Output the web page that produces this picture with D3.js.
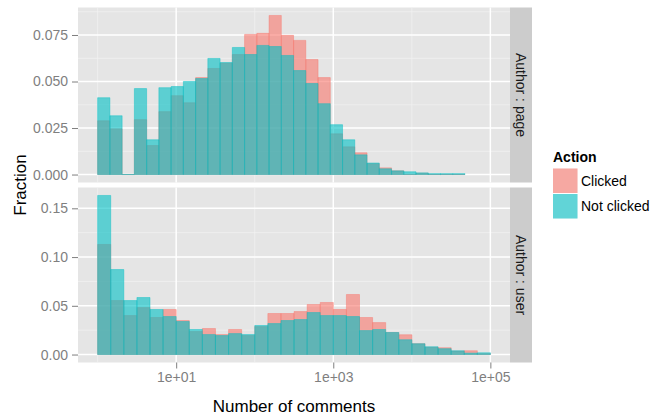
<!DOCTYPE html>
<html>
<head>
<meta charset="utf-8">
<script src="https://d3js.org/d3.v7.min.js"></script>
<style>
  body { margin: 0; background: #fff; }
  svg { display: block; font-family: "Liberation Sans", Arial, Helvetica, sans-serif; }
</style>
</head>
<body>
<svg id="chart" width="665" height="419"></svg>
<script>
// ---- data ----
const actions = ["Clicked", "Not clicked"];
const panels = ["Author : page", "Author : user"];
// histogram bins in log10(number of comments), starting at 1 comment
const binStartLog = 0;
const pageBinWidthLog = 0.1559;
const userBinWidthLog = 0.1667;
const pageClicked = [0.0289, 0.0246, 0, 0.0295, 0.0156, 0.0338, 0.0424, 0.0386, 0.0521, 0.0570,
  0.0598, 0.0645, 0.0753, 0.0759, 0.0855, 0.0748, 0.0721, 0.0618, 0.0521, 0.0219,
  0.0149, 0.0117, 0.0058, 0.0036, 0.0020, 0, 0.0007, 0, 0, 0];
const pageNotClicked = [0.0413, 0.0316, 0, 0.0462, 0.0187, 0.0467, 0.0473, 0.0500, 0.0516, 0.0624,
  0.0602, 0.0683, 0.0645, 0.0694, 0.0688, 0.0640, 0.0559, 0.0489, 0.0381, 0.0268,
  0.0187, 0.0106, 0.0062, 0.0031, 0.0020, 0.0015, 0.0009, 0.0005, 0.0005, 0.0005];
const userClicked = [0.1129, 0.0554, 0.0400, 0.0482, 0.0380, 0.0462, 0.0349, 0.0236, 0.0267, 0.0205,
  0.0257, 0.0195, 0.0287, 0.0421, 0.0421, 0.0441, 0.0513, 0.0534, 0.0462, 0.0616,
  0.0380, 0.0328, 0.0226, 0.0203, 0.0111, 0.0074, 0.0070, 0.0035, 0.0039, 0.0009];
const userNotClicked = [0.1632, 0.0872, 0.0554, 0.0585, 0.0462, 0.0390, 0.0339, 0.0257, 0.0205, 0.0195,
  0.0215, 0.0205, 0.0298, 0.0318, 0.0349, 0.0359, 0.0431, 0.0400, 0.0400, 0.0390,
  0.0246, 0.0257, 0.0226, 0.0152, 0.0111, 0.0080, 0.0060, 0.0039, 0.0015, 0.0018];
const xTickValues = [1e1, 1e3, 1e5];
const xMinorValues = [1e0, 1e2, 1e4];
const pageYTicks = [0, 0.025, 0.05, 0.075];
const userYTicks = [0, 0.05, 0.10, 0.15];

// ---- layout ----
const svg = d3.select("#chart");
const px0 = 78, px1 = 510;
const stripW = 22;
const panelBoxes = [{y0: 7.5, y1: 182.5}, {y0: 187.5, y1: 362.5}];
const colors = {"Clicked": "#F8766D", "Not clicked": "#00BFC4"};
const alpha = 0.6;

const x = d3.scaleLog().domain([Math.pow(10, -0.25), Math.pow(10, 5.25)]).range([px0, px1]);

const panelData = [
  {name: panels[0], width: pageBinWidthLog, series: {"Clicked": pageClicked, "Not clicked": pageNotClicked},
   ticks: pageYTicks, fmt: d3.format(".3f")},
  {name: panels[1], width: userBinWidthLog, series: {"Clicked": userClicked, "Not clicked": userNotClicked},
   ticks: userYTicks, fmt: d3.format(".2f")}
];

panelData.forEach((p, pi) => {
  const box = panelBoxes[pi];
  const maxV = d3.max(actions.flatMap(a => p.series[a]));
  const y = d3.scaleLinear().domain([-0.05 * maxV, 1.05 * maxV]).range([box.y1, box.y0]);
  const g = svg.append("g");
  // background
  g.append("rect").attr("x", px0).attr("y", box.y0).attr("width", px1 - px0).attr("height", box.y1 - box.y0)
    .attr("fill", "#E5E5E5");
  // minor grid
  const step = p.ticks[1] - p.ticks[0];
  const yMinor = d3.range(-10, 20).map(k => (k + 0.5) * step).filter(v => v > y.domain()[0] && v < y.domain()[1]);
  g.selectAll(".hminor").data(yMinor).join("line")
    .attr("x1", px0).attr("x2", px1).attr("y1", d => y(d)).attr("y2", d => y(d))
    .attr("stroke", "#F2F2F2").attr("stroke-width", 0.75);
  g.selectAll(".vminor").data(xMinorValues).join("line")
    .attr("x1", d => x(d)).attr("x2", d => x(d)).attr("y1", box.y0).attr("y2", box.y1)
    .attr("stroke", "#F2F2F2").attr("stroke-width", 0.75);
  // major grid
  g.selectAll(".hmajor").data(p.ticks).join("line")
    .attr("x1", px0).attr("x2", px1).attr("y1", d => y(d)).attr("y2", d => y(d))
    .attr("stroke", "#FFFFFF").attr("stroke-width", 1.5);
  g.selectAll(".vmajor").data(xTickValues).join("line")
    .attr("x1", d => x(d)).attr("x2", d => x(d)).attr("y1", box.y0).attr("y2", box.y1)
    .attr("stroke", "#FFFFFF").attr("stroke-width", 1.5);

  // bars (paths so zero-height bins still show their outline)
  actions.forEach(a => {
    const vals = p.series[a];
    const bins = vals.map((v, i) => ({
      lo: Math.pow(10, binStartLog + i * p.width),
      hi: Math.pow(10, binStartLog + (i + 1) * p.width),
      v: v
    }));
    g.append("g").selectAll("path").data(bins).join("path")
      .attr("d", d => {
        const x0 = x(d.lo), x1 = x(d.hi), y0 = y(0), y1 = y(d.v);
        return `M${x0},${y0}H${x1}V${y1}H${x0}Z`;
      })
      .attr("fill", colors[a]).attr("fill-opacity", alpha)
      .attr("stroke", colors[a]).attr("stroke-opacity", alpha).attr("stroke-width", 0.7);
  });

  // y axis
  const ya = svg.append("g").attr("transform", `translate(${px0},0)`)
    .call(d3.axisLeft(y).tickValues(p.ticks).tickFormat(p.fmt).tickSize(6).tickPadding(4));
  ya.select(".domain").remove();
  ya.selectAll(".tick line").attr("stroke", "#7F7F7F").attr("stroke-width", 1);
  ya.selectAll(".tick text").attr("fill", "#7F7F7F").attr("font-size", 14)
    .attr("font-family", "Liberation Sans, Arial, sans-serif");

  // strip
  svg.append("rect").attr("x", px1).attr("y", box.y0).attr("width", stripW).attr("height", box.y1 - box.y0)
    .attr("fill", "#CCCCCC");
  svg.append("text")
    .attr("transform", `translate(${px1 + stripW / 2},${(box.y0 + box.y1) / 2}) rotate(90)`)
    .attr("text-anchor", "middle").attr("dy", "0.35em")
    .attr("font-size", 14).attr("fill", "#1A1A1A").text(p.name);
});

// x axis
const xa = svg.append("g").attr("transform", `translate(0,${panelBoxes[1].y1})`)
  .call(d3.axisBottom(x).tickValues(xTickValues)
    .tickFormat(d => "1e+" + String(Math.round(Math.log10(d))).padStart(2, "0"))
    .tickSize(6).tickPadding(4));
xa.select(".domain").remove();
xa.selectAll(".tick line").attr("stroke", "#7F7F7F").attr("stroke-width", 1);
xa.selectAll(".tick text").attr("fill", "#7F7F7F").attr("font-size", 14)
  .attr("font-family", "Liberation Sans, Arial, sans-serif");

// axis titles
svg.append("text").attr("x", (px0 + px1) / 2).attr("y", 412).attr("text-anchor", "middle")
  .attr("font-size", 17).attr("fill", "#000").text("Number of comments");
svg.append("text").attr("transform", `translate(26,${(panelBoxes[0].y0 + panelBoxes[1].y1) / 2}) rotate(-90)`)
  .attr("text-anchor", "middle").attr("font-size", 17).attr("fill", "#000").text("Fraction");

// legend
const lg = svg.append("g").attr("transform", "translate(552.5,0)");
lg.append("text").attr("x", 0.5).attr("y", 162).attr("font-size", 14).attr("font-weight", "bold")
  .attr("fill", "#000").text("Action");
const keySize = 25.5;
actions.forEach((a, i) => {
  const ky = 168 + i * keySize;
  lg.append("rect").attr("x", 0).attr("y", ky).attr("width", keySize).attr("height", keySize)
    .attr("fill", "#F2F2F2").attr("stroke", "#FFFFFF").attr("stroke-width", 1);
  lg.append("rect").attr("x", 0.5).attr("y", ky + 0.5).attr("width", keySize - 1).attr("height", keySize - 1)
    .attr("fill", colors[a]).attr("fill-opacity", alpha);
  lg.append("text").attr("x", keySize + 3).attr("y", ky + keySize / 2).attr("dy", "0.35em")
    .attr("font-size", 14).attr("fill", "#000").text(a);
});
</script>
</body>
</html>
